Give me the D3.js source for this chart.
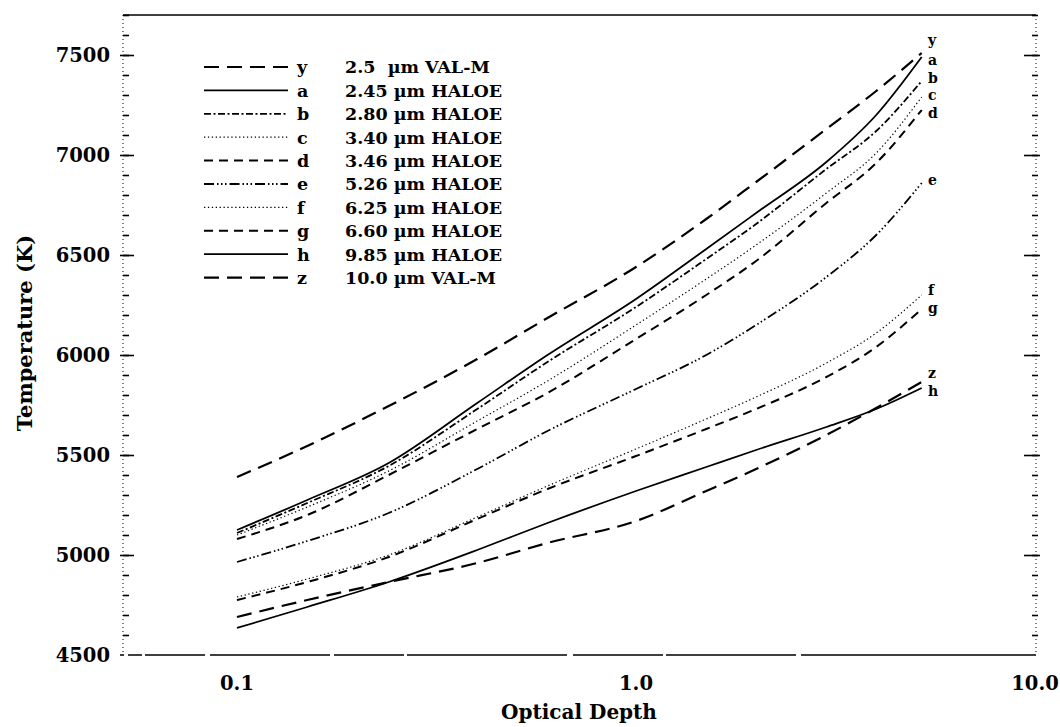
<!DOCTYPE html>
<html><head><meta charset="utf-8">
<script src="https://cdn.jsdelivr.net/npm/d3@7"></script>
<style>body{margin:0;background:#fff}svg{display:block}text{font-family:"DejaVu Serif",serif;font-weight:bold;fill:#000}</style>
</head><body>
<svg id="c" width="1060" height="727"></svg>
<script>
// ---- data ----
const opticalDepth = [0.1, 0.15, 0.24, 0.4, 0.6, 1.0, 1.5, 2.0, 3.0, 4.0, 5.2];
const tempY = [5390, 5545, 5745, 5980, 6185, 6440, 6680, 6865, 7130, 7320, 7510];
const tempA = [5125, 5275, 5460, 5760, 6000, 6280, 6530, 6710, 6965, 7200, 7490];
const tempB = [5110, 5260, 5445, 5730, 5965, 6240, 6480, 6655, 6930, 7120, 7370];
const tempC = [5100, 5240, 5420, 5670, 5870, 6150, 6380, 6550, 6810, 7010, 7290];
const tempD = [5080, 5200, 5400, 5630, 5810, 6080, 6300, 6470, 6760, 6960, 7225];
const tempE = [4965, 5070, 5210, 5430, 5620, 5830, 6000, 6150, 6390, 6600, 6860];
const tempF = [4790, 4880, 5000, 5190, 5345, 5530, 5680, 5790, 5960, 6110, 6300];
const tempG = [4775, 4865, 4990, 5180, 5330, 5495, 5630, 5730, 5890, 6040, 6230];
const tempH = [4635, 4740, 4865, 5025, 5160, 5320, 5440, 5525, 5640, 5730, 5835];
const tempZ = [4690, 4775, 4865, 4960, 5060, 5170, 5320, 5430, 5600, 5735, 5865];
const letters = ["y", "a", "b", "c", "d", "e", "f", "g", "h", "z"];
const legendNames = ["2.5  \u00b5m VAL-M", "2.45 \u00b5m HALOE", "2.80 \u00b5m HALOE", "3.40 \u00b5m HALOE",
  "3.46 \u00b5m HALOE", "5.26 \u00b5m HALOE", "6.25 \u00b5m HALOE", "6.60 \u00b5m HALOE",
  "9.85 \u00b5m HALOE", "10.0 \u00b5m VAL-M"];
const endLabelTemps = [7575, 7475, 7385, 7300, 7210, 6875, 6325, 6235, 5820, 5910];
const yTicksMajor = [4500, 5000, 5500, 6000, 6500, 7000, 7500];
const xTickLabels = [0.1, 1.0, 10.0];

const allTemps = [tempY, tempA, tempB, tempC, tempD, tempE, tempF, tempG, tempH, tempZ];

// ---- styles ----
const styles = {
  y: {dash: "15,8", w: 2.2},
  a: {dash: null, w: 1.8},
  b: {dash: "7,2.5,2,2.5", w: 1.8},
  c: {dash: "1.3,2.6", w: 1.2},
  d: {dash: "9,6", w: 2},
  e: {dash: "10,3,1.5,2.5,1.5,2.5,1.5,3", w: 1.8},
  f: {dash: "1.3,2.6", w: 1.2},
  g: {dash: "9,6", w: 2},
  h: {dash: null, w: 1.8},
  z: {dash: "15,8", w: 2.2}
};

const svg = d3.select("#c");
const L = 123, R = 1036, T = 15, B = 655;
const x = d3.scaleLog().domain([0.1, 10]).range([237, 1035]);
const y = d3.scaleLinear().domain([4500, 7700]).range([B, T]);

// axes frame
svg.append("line").attr("x1", L).attr("x2", R).attr("y1", T).attr("y2", T)
  .attr("stroke", "#000").attr("stroke-width", 1.6);
svg.append("line").attr("x1", L - 3).attr("x2", R).attr("y1", B).attr("y2", B)
  .attr("stroke", "#000").attr("stroke-width", 1.6)
  .attr("stroke-dasharray", "4,4,14,3,60,5,120,4,70,3,160,6,90,3,130,5,300");
svg.append("line").attr("x1", L).attr("x2", L).attr("y1", T).attr("y2", B)
  .attr("stroke", "#000").attr("stroke-width", 1).attr("stroke-dasharray", "1,3");
svg.append("line").attr("x1", R).attr("x2", R).attr("y1", T).attr("y2", B)
  .attr("stroke", "#000").attr("stroke-width", 1).attr("stroke-dasharray", "1,3");

// y ticks (left, inward; right, inward)
const minorTicks = d3.range(4600, 7701, 100);
const leftAxis = d3.axisRight(y).tickValues(minorTicks).tickSize(6).tickFormat("");
const gl = svg.append("g").attr("transform", `translate(${L},0)`).call(leftAxis);
gl.select(".domain").remove();
gl.selectAll("line").attr("stroke-width", 1.6);
const leftMajor = d3.axisRight(y).tickValues(yTicksMajor.filter(v => v > 4500)).tickSize(14).tickFormat("");
const glm = svg.append("g").attr("transform", `translate(${L - 3},0)`).call(leftMajor);
glm.select(".domain").remove();
glm.selectAll("line").attr("stroke-width", 1.6);

const rightAxis = d3.axisLeft(y).tickValues(minorTicks).tickSize(6).tickFormat("");
const gr = svg.append("g").attr("transform", `translate(${R + 2},0)`).call(rightAxis);
gr.select(".domain").remove();
gr.selectAll("line").attr("stroke-width", 1.6);
const rightMajor = d3.axisLeft(y).tickValues(yTicksMajor.filter(v => v > 4500)).tickSize(16).tickFormat("");
const grm = svg.append("g").attr("transform", `translate(${R + 4},0)`).call(rightMajor);
grm.select(".domain").remove();
grm.selectAll("line").attr("stroke-width", 1.6);

// y tick labels
svg.append("g").selectAll("text").data(yTicksMajor).join("text")
  .attr("x", 110).attr("y", d => y(d)).attr("dy", "0.36em")
  .attr("text-anchor", "end").style("font-size", "19.5px").text(d => d);

// x tick labels
svg.append("g").selectAll("text").data(xTickLabels).join("text")
  .attr("x", d => x(d)).attr("y", 690)
  .attr("text-anchor", "middle").style("font-size", "19.5px").text(d => d.toFixed(1));

// axis titles
svg.append("text").attr("x", 579).attr("y", 719).attr("text-anchor", "middle")
  .style("font-size", "20px").text("Optical Depth");
svg.append("text").attr("transform", "translate(32,333) rotate(-90)").attr("text-anchor", "middle")
  .style("font-size", "21px").text("Temperature (K)");

// curves
const line = d3.line().x(d => x(d[0])).y(d => y(d[1])).curve(d3.curveMonotoneX);
letters.forEach((k, i) => {
  const pts = opticalDepth.map((t, j) => [t, allTemps[i][j]]);
  svg.append("path").datum(pts).attr("d", line).attr("fill", "none")
    .attr("stroke", "#000").attr("stroke-width", styles[k].w)
    .attr("stroke-dasharray", styles[k].dash);
  svg.append("text").attr("x", 928).attr("y", y(endLabelTemps[i])).attr("dy", "0.36em")
    .style("font-size", "14px").text(k);
});

// legend
const legY0 = 67, legDy = 23.4;
letters.forEach((k, i) => {
  const yy = legY0 + i * legDy;
  svg.append("line").attr("x1", 204).attr("x2", 288).attr("y1", yy).attr("y2", yy)
    .attr("stroke", "#000").attr("stroke-width", styles[k].w)
    .attr("stroke-dasharray", styles[k].dash);
  svg.append("text").attr("x", 297).attr("y", yy).attr("dy", "0.36em")
    .style("font-size", "17.5px").text(k);
  svg.append("text").attr("x", 345).attr("y", yy).attr("dy", "0.36em")
    .style("font-size", "17.5px").style("white-space", "pre").attr("xml:space", "preserve").text(legendNames[i]);
});
</script>
</body></html>
